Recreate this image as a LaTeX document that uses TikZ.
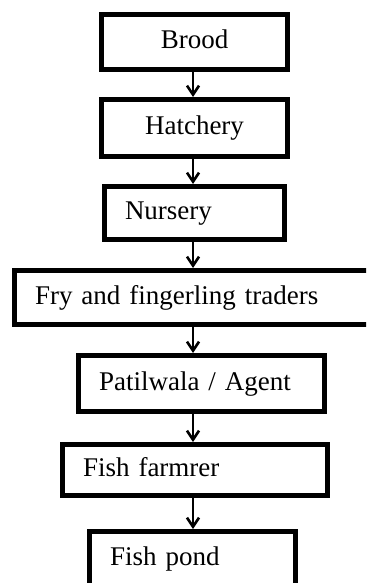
\documentclass[tikz,border=0pt]{standalone}
\usepackage{fontspec}
\setmainfont{Liberation Serif}
\usetikzlibrary{arrows.meta}

\begin{document}
\begin{tikzpicture}[x=0.5pt, y=-0.5pt,
    stage/.style = {rectangle, draw, line width=2.5pt, inner xsep=10.25pt,
                    text height=0.66em, text depth=0em,
                    font=\fontsize{13.5pt}{16pt}\selectfont},
    flow/.style = {-{Straight Barb[length=4.5pt, width=6pt, line width=1.3pt]}, line width=1.2pt}]
  \clip (0, 0) rectangle (366, 583);

  % Stages.
  \node at (194.5, 42) [stage, minimum width=93pt, minimum height=27.5pt, name=Brood] {Brood};
  \node at (194.5, 128) [stage, minimum width=93pt, minimum height=28.5pt, name=Hatchery] {Hatchery};
  \node at (194.5, 213) [stage, minimum height=26.5pt, text width=69.5pt, align=left, name=Nursery] {Nursery};
  \node at (193, 297.5) [stage, minimum height=27pt, text width=158pt, align=left, name=Traders] {Fry and fingerling traders};
  \node at (201.5, 383.5) [stage, minimum height=28pt, text width=102.5pt, align=left, name=Agent] {Patilwala / Agent};
  \node at (195, 470) [stage, minimum height=25.5pt, text width=112pt, align=left, name=Farmer] {Fish farmrer};
  \node at (192.5, 559) [stage, minimum height=27.5pt, text width=82.5pt, align=left, name=Pond] {Fish pond};

  % Line the arrows run along.
  \coordinate (spine) at (193, 0);

  % Flow between stages.
  \draw [flow] (Brood.south -| spine) to (Hatchery.north -| spine);
  \draw [flow] (Hatchery.south -| spine) to (Nursery.north -| spine);
  \draw [flow] (Nursery.south -| spine) to (Traders.north -| spine);
  \draw [flow] (Traders.south -| spine) to (Agent.north -| spine);
  \draw [flow] (Agent.south -| spine) to (Farmer.north -| spine);
  \draw [flow] (Farmer.south -| spine) to (Pond.north -| spine);
\end{tikzpicture}
\end{document}
